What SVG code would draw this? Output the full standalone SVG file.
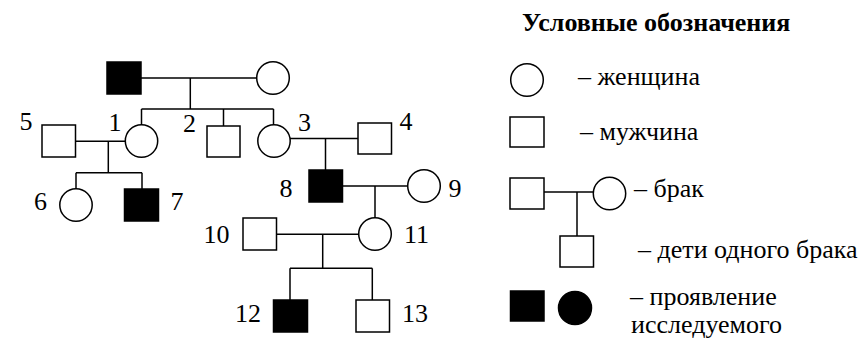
<svg xmlns="http://www.w3.org/2000/svg" width="863" height="339" viewBox="0 0 863 339">
<style>
.m{fill:#fff;stroke:#000;stroke-width:1.5}
.a{fill:#000;stroke:#000;stroke-width:1.5}
.c line{stroke:#000;stroke-width:1.5}
.n{text-anchor:middle}
</style>
<rect width="863" height="339" fill="#fff"/>
<g id="connectors" class="c">
<line x1="141" y1="78" x2="257" y2="78"/>
<line x1="190.3" y1="78" x2="190.3" y2="109"/>
<line x1="141.5" y1="109" x2="273.5" y2="109"/>
<line x1="141.5" y1="109" x2="141.5" y2="125"/>
<line x1="223.5" y1="109" x2="223.5" y2="126"/>
<line x1="273.5" y1="109" x2="273.5" y2="125"/>
<line x1="75" y1="141.3" x2="125.5" y2="141.3"/>
<line x1="108.3" y1="141.3" x2="108.3" y2="172.7"/>
<line x1="76" y1="172.7" x2="142" y2="172.7"/>
<line x1="76" y1="172.7" x2="76" y2="189"/>
<line x1="142" y1="172.7" x2="142" y2="189"/>
<line x1="290" y1="138.5" x2="358" y2="138.5"/>
<line x1="325.5" y1="138.5" x2="325.5" y2="170"/>
<line x1="342.5" y1="186" x2="407.5" y2="186"/>
<line x1="375" y1="186" x2="375" y2="218"/>
<line x1="276.5" y1="234.3" x2="358.5" y2="234.3"/>
<line x1="322.7" y1="234.3" x2="322.7" y2="268.3"/>
<line x1="290" y1="268.3" x2="372.3" y2="268.3"/>
<line x1="290" y1="268.3" x2="290" y2="300"/>
<line x1="372.3" y1="268.3" x2="372.3" y2="300"/>
</g>
<g font-family="Liberation Serif, DejaVu Serif, serif" font-size="26" fill="#000">
<g id="grandfather"><rect class="a" x="107" y="62" width="34" height="32"/></g>
<g id="grandmother"><circle class="m" cx="273" cy="78" r="16.3"/></g>
<g id="n1"><circle class="m" cx="141.5" cy="141" r="16.2"/><text class="n" x="115" y="131">1</text></g>
<g id="n2"><rect class="m" x="207" y="126" width="33" height="31"/><text class="n" x="189.5" y="132">2</text></g>
<g id="n3"><circle class="m" cx="274" cy="141" r="16.2"/><text class="n" x="304.5" y="131">3</text></g>
<g id="n4"><rect class="m" x="358" y="123" width="33.5" height="31"/><text class="n" x="406" y="130">4</text></g>
<g id="n5"><rect class="m" x="42" y="125" width="33.5" height="32"/><text class="n" x="26" y="130">5</text></g>
<g id="n6"><circle class="m" cx="76" cy="205" r="16.2"/><text class="n" x="40.5" y="210">6</text></g>
<g id="n7"><rect class="a" x="124.5" y="189" width="34" height="32"/><text class="n" x="177" y="210">7</text></g>
<g id="n8"><rect class="a" x="309" y="170" width="33.5" height="32"/><text class="n" x="286" y="197">8</text></g>
<g id="n9"><circle class="m" cx="424" cy="186" r="16.3"/><text class="n" x="455" y="197">9</text></g>
<g id="n10"><rect class="m" x="243" y="218" width="33.5" height="32"/><text class="n" x="216.5" y="243">10</text></g>
<g id="n11"><circle class="m" cx="375" cy="234" r="16.3"/><text class="n" x="416.5" y="243">11</text></g>
<g id="n12"><rect class="a" x="273.5" y="300" width="34" height="32"/><text class="n" x="248" y="322">12</text></g>
<g id="n13"><rect class="m" x="356" y="300" width="33.5" height="32"/><text class="n" x="415" y="322">13</text></g>
<g id="legend">
<text x="522" y="31" font-weight="bold" font-size="26">Условные обозначения</text>
<circle class="m" cx="527" cy="80" r="16.3"/>
<text x="578" y="85">– женщина</text>
<rect class="m" x="510" y="117" width="34" height="30"/>
<text x="580" y="140">– мужчина</text>
<rect class="m" x="510" y="178" width="34" height="31"/>
<line x1="544" y1="192" x2="593.5" y2="192" stroke="#000" stroke-width="1.5"/>
<line x1="577" y1="192" x2="577" y2="236" stroke="#000" stroke-width="1.5"/>
<circle class="m" cx="609.5" cy="193.5" r="16.2"/>
<rect class="m" x="560" y="236" width="33.5" height="31"/>
<text x="634" y="197">– брак</text>
<text x="638" y="258">– дети одного брака</text>
<rect class="a" x="510.5" y="291" width="33.5" height="30"/>
<circle class="a" cx="575" cy="308" r="16.5"/>
<text x="630" y="305">– проявление</text>
<text x="631" y="333">исследуемого</text>
</g>
</g>
</svg>
